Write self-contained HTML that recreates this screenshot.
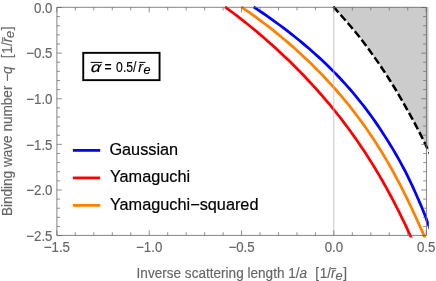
<!DOCTYPE html>
<html><head><meta charset="utf-8"><title>plot</title>
<style>
html,body{margin:0;padding:0;background:#fff;}
body{width:436px;height:281px;overflow:hidden;}
svg{display:block;font-family:"Liberation Sans",sans-serif;will-change:transform;}
text{white-space:pre;}
</style></head><body>
<svg width="436" height="281" viewBox="0 0 436 281">
<rect x="0" y="0" width="436" height="281" fill="#fff"/>
<defs>
<clipPath id="c"><rect x="56.9" y="7.3" width="369.30" height="228.10"/></clipPath>
<clipPath id="c3"><rect x="56.9" y="7.00" width="371.70" height="228.10"/></clipPath>
<clipPath id="c2"><rect x="54.50" y="4.30" width="374.30" height="233.30"/></clipPath>
</defs>
<g clip-path="url(#c3)">
<path d="M333.27,6.70 L334.41,7.95 L335.55,9.21 L336.69,10.46 L337.82,11.72 L338.94,12.97 L340.06,14.23 L341.18,15.48 L342.29,16.74 L343.39,17.99 L344.49,19.25 L345.58,20.50 L346.67,21.76 L347.76,23.01 L348.83,24.26 L349.91,25.52 L350.97,26.77 L352.04,28.03 L353.09,29.28 L354.15,30.54 L355.19,31.79 L356.24,33.05 L357.27,34.30 L358.28,35.56 L359.26,36.81 L360.23,38.07 L361.19,39.32 L362.15,40.57 L363.11,41.83 L364.06,43.08 L365.00,44.34 L365.94,45.59 L366.88,46.85 L367.81,48.10 L368.73,49.36 L369.65,50.61 L370.57,51.87 L371.48,53.12 L372.38,54.38 L373.29,55.63 L374.18,56.88 L375.07,58.14 L375.96,59.39 L376.84,60.65 L377.72,61.90 L378.59,63.16 L379.46,64.41 L380.32,65.67 L381.18,66.92 L382.04,68.18 L382.88,69.43 L383.72,70.69 L384.54,71.94 L385.36,73.19 L386.17,74.45 L386.98,75.70 L387.78,76.96 L388.58,78.21 L389.38,79.47 L390.17,80.72 L390.95,81.98 L391.74,83.23 L392.51,84.49 L393.29,85.74 L394.05,87.00 L394.82,88.25 L395.58,89.51 L396.33,90.76 L397.08,92.01 L397.83,93.27 L398.57,94.52 L399.31,95.78 L400.04,97.03 L400.77,98.29 L401.50,99.54 L402.22,100.80 L402.93,102.05 L403.64,103.31 L404.35,104.56 L405.06,105.82 L405.76,107.07 L406.45,108.32 L407.14,109.58 L407.85,110.83 L408.56,112.09 L409.26,113.34 L409.96,114.60 L410.66,115.85 L411.35,117.11 L412.04,118.36 L412.72,119.62 L413.40,120.87 L414.08,122.13 L414.75,123.38 L415.42,124.63 L416.08,125.89 L416.74,127.14 L417.40,128.40 L418.05,129.65 L418.70,130.91 L419.35,132.16 L419.99,133.42 L420.62,134.67 L421.26,135.93 L421.89,137.18 L422.51,138.44 L423.14,139.69 L423.76,140.94 L424.37,142.20 L424.98,143.45 L425.59,144.71 L426.19,145.96 L426.79,147.22 L427.39,148.47 L427.98,149.73 L428.57,150.98 L429.16,152.24 L429.74,153.49 L430.32,154.75 L430.89,156.00 L431.2,156.00 L431.2,2.3 L333.27,2.3 Z" fill="#cccccc" stroke="none"/>
</g>
<g fill="none" stroke-linejoin="round" clip-path="url(#c2)">
<path d="M333.27,6.70 L334.41,7.95 L335.55,9.21 L336.69,10.46 L337.82,11.72 L338.94,12.97 L340.06,14.23 L341.18,15.48 L342.29,16.74 L343.39,17.99 L344.49,19.25 L345.58,20.50 L346.67,21.76 L347.76,23.01 L348.83,24.26 L349.91,25.52 L350.97,26.77 L352.04,28.03 L353.09,29.28 L354.15,30.54 L355.19,31.79 L356.24,33.05 L357.27,34.30 L358.28,35.56 L359.26,36.81 L360.23,38.07 L361.19,39.32 L362.15,40.57 L363.11,41.83 L364.06,43.08 L365.00,44.34 L365.94,45.59 L366.88,46.85 L367.81,48.10 L368.73,49.36 L369.65,50.61 L370.57,51.87 L371.48,53.12 L372.38,54.38 L373.29,55.63 L374.18,56.88 L375.07,58.14 L375.96,59.39 L376.84,60.65 L377.72,61.90 L378.59,63.16 L379.46,64.41 L380.32,65.67 L381.18,66.92 L382.04,68.18 L382.88,69.43 L383.72,70.69 L384.54,71.94 L385.36,73.19 L386.17,74.45 L386.98,75.70 L387.78,76.96 L388.58,78.21 L389.38,79.47 L390.17,80.72 L390.95,81.98 L391.74,83.23 L392.51,84.49 L393.29,85.74 L394.05,87.00 L394.82,88.25 L395.58,89.51 L396.33,90.76 L397.08,92.01 L397.83,93.27 L398.57,94.52 L399.31,95.78 L400.04,97.03 L400.77,98.29 L401.50,99.54 L402.22,100.80 L402.93,102.05 L403.64,103.31 L404.35,104.56 L405.06,105.82 L405.76,107.07 L406.45,108.32 L407.14,109.58 L407.85,110.83 L408.56,112.09 L409.26,113.34 L409.96,114.60 L410.66,115.85 L411.35,117.11 L412.04,118.36 L412.72,119.62 L413.40,120.87 L414.08,122.13 L414.75,123.38 L415.42,124.63 L416.08,125.89 L416.74,127.14 L417.40,128.40 L418.05,129.65 L418.70,130.91 L419.35,132.16 L419.99,133.42 L420.62,134.67 L421.26,135.93 L421.89,137.18 L422.51,138.44 L423.14,139.69 L423.76,140.94 L424.37,142.20 L424.98,143.45 L425.59,144.71 L426.19,145.96 L426.79,147.22 L427.39,148.47 L427.98,149.73 L428.57,150.98 L429.16,152.24 L429.74,153.49 L430.32,154.75 L430.89,156.00" stroke="#000" stroke-width="2.5" stroke-dasharray="7.65,3.25"/>
<path d="M253.57,6.85 L257.97,9.79 L262.30,12.74 L266.55,15.68 L270.72,18.62 L274.83,21.57 L278.86,24.51 L282.82,27.46 L286.71,30.40 L290.49,33.34 L294.21,36.29 L297.86,39.23 L301.44,42.17 L304.95,45.12 L308.40,48.06 L311.79,51.01 L315.11,53.95 L318.37,56.89 L321.57,59.84 L324.70,62.78 L327.77,65.72 L330.74,68.67 L333.65,71.61 L336.51,74.55 L339.31,77.50 L342.05,80.44 L344.74,83.39 L347.38,86.33 L349.96,89.27 L352.49,92.22 L354.97,95.16 L357.39,98.10 L359.78,101.05 L362.12,103.99 L364.42,106.93 L366.67,109.88 L368.87,112.82 L371.03,115.77 L373.14,118.71 L375.21,121.65 L377.24,124.60 L379.22,127.54 L381.17,130.48 L383.07,133.43 L384.93,136.37 L386.82,139.32 L388.68,142.26 L390.51,145.20 L392.30,148.15 L394.05,151.09 L395.77,154.03 L397.46,156.98 L399.11,159.92 L400.73,162.86 L402.32,165.81 L403.88,168.75 L405.41,171.70 L406.91,174.64 L408.36,177.58 L409.78,180.53 L411.17,183.47 L412.54,186.41 L413.88,189.36 L415.20,192.30 L416.49,195.24 L417.81,198.19 L419.11,201.13 L420.39,204.08 L421.64,207.02 L422.88,209.96 L424.02,212.91 L425.15,215.85 L426.26,218.79 L427.35,221.74 L428.43,224.68 L429.50,227.63 L430.56,230.57 L431.60,233.51 L432.63,236.46 L433.65,239.40" stroke="#0000ff" stroke-width="2.75"/>
<path d="M225.02,6.85 L228.98,9.79 L232.88,12.74 L236.74,15.68 L240.54,18.62 L244.30,21.57 L248.00,24.51 L251.65,27.46 L255.25,30.40 L258.74,33.34 L262.18,36.29 L265.57,39.23 L268.92,42.17 L272.22,45.12 L275.47,48.06 L278.68,51.01 L281.84,53.95 L284.96,56.89 L288.04,59.84 L291.07,62.78 L294.05,65.72 L297.00,68.67 L299.90,71.61 L302.76,74.55 L305.58,77.50 L308.36,80.44 L311.10,83.39 L313.79,86.33 L316.45,89.27 L319.07,92.22 L321.66,95.16 L324.20,98.10 L326.71,101.05 L329.18,103.99 L331.61,106.93 L334.01,109.88 L336.38,112.82 L338.71,115.77 L341.00,118.71 L343.27,121.65 L345.49,124.60 L347.69,127.54 L349.86,130.48 L351.99,133.43 L354.09,136.37 L356.16,139.32 L358.20,142.26 L360.21,145.20 L362.20,148.15 L364.15,151.09 L366.08,154.03 L367.98,156.98 L369.85,159.92 L371.69,162.86 L373.51,165.81 L375.31,168.75 L377.08,171.70 L378.82,174.64 L380.54,177.58 L382.24,180.53 L383.91,183.47 L385.57,186.41 L387.20,189.36 L388.81,192.30 L390.39,195.24 L391.96,198.19 L393.51,201.13 L395.04,204.08 L396.55,207.02 L398.04,209.96 L399.51,212.91 L400.97,215.85 L402.41,218.79 L403.83,221.74 L405.24,224.68 L406.63,227.63 L408.01,230.57 L409.37,233.51 L410.72,236.46 L412.06,239.40" stroke="#ff0000" stroke-width="2.75"/>
<path d="M241.28,6.85 L245.51,9.79 L249.68,12.74 L253.78,15.68 L257.81,18.62 L261.79,21.57 L265.69,24.51 L269.54,27.46 L273.31,30.40 L276.95,33.34 L280.52,36.29 L284.03,39.23 L287.49,42.17 L290.89,45.12 L294.23,48.06 L297.51,51.01 L300.74,53.95 L303.91,56.89 L307.03,59.84 L310.09,62.78 L313.11,65.72 L316.07,68.67 L318.98,71.61 L321.84,74.55 L324.65,77.50 L327.41,80.44 L330.13,83.39 L332.79,86.33 L335.41,89.27 L337.99,92.22 L340.52,95.16 L343.00,98.10 L345.45,101.05 L347.85,103.99 L350.21,106.93 L352.52,109.88 L354.80,112.82 L357.04,115.77 L359.24,118.71 L361.40,121.65 L363.52,124.60 L365.61,127.54 L367.66,130.48 L369.68,133.43 L371.67,136.37 L373.62,139.32 L375.54,142.26 L377.42,145.20 L379.28,148.15 L381.10,151.09 L382.90,154.03 L384.67,156.98 L386.41,159.92 L388.12,162.86 L389.81,165.81 L391.47,168.75 L393.10,171.70 L394.72,174.64 L396.31,177.58 L397.87,180.53 L399.42,183.47 L400.94,186.41 L402.45,189.36 L403.93,192.30 L405.40,195.24 L406.85,198.19 L408.28,201.13 L409.70,204.08 L411.10,207.02 L412.48,209.96 L413.86,212.91 L415.21,215.85 L416.56,218.79 L417.90,221.74 L419.22,224.68 L420.54,227.63 L421.84,230.57 L423.14,233.51 L424.43,236.46 L425.71,239.40" stroke="#ff8000" stroke-width="2.75"/>
</g>
<line x1="333.77" y1="7.3" x2="333.77" y2="235.4" stroke="#b8b8b8" stroke-width="0.9" opacity="0.85"/>
<g stroke="#666666" stroke-width="0.8" fill="none">
<path d="M56.9,235.4 L56.9,7.3 L426.45,7.3 L426.45,235.4 Z"/>
</g>
<g stroke="#666666" stroke-width="0.72" fill="none">
<line x1="56.90" y1="235.4" x2="56.90" y2="230.40"/>
<line x1="56.90" y1="7.3" x2="56.90" y2="12.30"/>
<line x1="75.37" y1="235.4" x2="75.37" y2="232.30"/>
<line x1="75.37" y1="7.3" x2="75.37" y2="10.40"/>
<line x1="93.83" y1="235.4" x2="93.83" y2="232.30"/>
<line x1="93.83" y1="7.3" x2="93.83" y2="10.40"/>
<line x1="112.30" y1="235.4" x2="112.30" y2="232.30"/>
<line x1="112.30" y1="7.3" x2="112.30" y2="10.40"/>
<line x1="130.76" y1="235.4" x2="130.76" y2="232.30"/>
<line x1="130.76" y1="7.3" x2="130.76" y2="10.40"/>
<line x1="149.22" y1="235.4" x2="149.22" y2="230.40"/>
<line x1="149.22" y1="7.3" x2="149.22" y2="12.30"/>
<line x1="167.69" y1="235.4" x2="167.69" y2="232.30"/>
<line x1="167.69" y1="7.3" x2="167.69" y2="10.40"/>
<line x1="186.16" y1="235.4" x2="186.16" y2="232.30"/>
<line x1="186.16" y1="7.3" x2="186.16" y2="10.40"/>
<line x1="204.62" y1="235.4" x2="204.62" y2="232.30"/>
<line x1="204.62" y1="7.3" x2="204.62" y2="10.40"/>
<line x1="223.09" y1="235.4" x2="223.09" y2="232.30"/>
<line x1="223.09" y1="7.3" x2="223.09" y2="10.40"/>
<line x1="241.55" y1="235.4" x2="241.55" y2="230.40"/>
<line x1="241.55" y1="7.3" x2="241.55" y2="12.30"/>
<line x1="260.01" y1="235.4" x2="260.01" y2="232.30"/>
<line x1="260.01" y1="7.3" x2="260.01" y2="10.40"/>
<line x1="278.48" y1="235.4" x2="278.48" y2="232.30"/>
<line x1="278.48" y1="7.3" x2="278.48" y2="10.40"/>
<line x1="296.94" y1="235.4" x2="296.94" y2="232.30"/>
<line x1="296.94" y1="7.3" x2="296.94" y2="10.40"/>
<line x1="315.41" y1="235.4" x2="315.41" y2="232.30"/>
<line x1="315.41" y1="7.3" x2="315.41" y2="10.40"/>
<line x1="333.88" y1="235.4" x2="333.88" y2="230.40"/>
<line x1="333.88" y1="7.3" x2="333.88" y2="12.30"/>
<line x1="352.34" y1="235.4" x2="352.34" y2="232.30"/>
<line x1="352.34" y1="7.3" x2="352.34" y2="10.40"/>
<line x1="370.81" y1="235.4" x2="370.81" y2="232.30"/>
<line x1="370.81" y1="7.3" x2="370.81" y2="10.40"/>
<line x1="389.27" y1="235.4" x2="389.27" y2="232.30"/>
<line x1="389.27" y1="7.3" x2="389.27" y2="10.40"/>
<line x1="407.74" y1="235.4" x2="407.74" y2="232.30"/>
<line x1="407.74" y1="7.3" x2="407.74" y2="10.40"/>
<line x1="426.20" y1="235.4" x2="426.20" y2="230.40"/>
<line x1="426.20" y1="7.3" x2="426.20" y2="12.30"/>
<line x1="56.9" y1="7.50" x2="61.90" y2="7.50"/>
<line x1="426.2" y1="7.50" x2="421.20" y2="7.50"/>
<line x1="56.9" y1="16.62" x2="60.00" y2="16.62"/>
<line x1="426.2" y1="16.62" x2="423.10" y2="16.62"/>
<line x1="56.9" y1="25.75" x2="60.00" y2="25.75"/>
<line x1="426.2" y1="25.75" x2="423.10" y2="25.75"/>
<line x1="56.9" y1="34.87" x2="60.00" y2="34.87"/>
<line x1="426.2" y1="34.87" x2="423.10" y2="34.87"/>
<line x1="56.9" y1="44.00" x2="60.00" y2="44.00"/>
<line x1="426.2" y1="44.00" x2="423.10" y2="44.00"/>
<line x1="56.9" y1="53.12" x2="61.90" y2="53.12"/>
<line x1="426.2" y1="53.12" x2="421.20" y2="53.12"/>
<line x1="56.9" y1="62.24" x2="60.00" y2="62.24"/>
<line x1="426.2" y1="62.24" x2="423.10" y2="62.24"/>
<line x1="56.9" y1="71.37" x2="60.00" y2="71.37"/>
<line x1="426.2" y1="71.37" x2="423.10" y2="71.37"/>
<line x1="56.9" y1="80.49" x2="60.00" y2="80.49"/>
<line x1="426.2" y1="80.49" x2="423.10" y2="80.49"/>
<line x1="56.9" y1="89.62" x2="60.00" y2="89.62"/>
<line x1="426.2" y1="89.62" x2="423.10" y2="89.62"/>
<line x1="56.9" y1="98.74" x2="61.90" y2="98.74"/>
<line x1="426.2" y1="98.74" x2="421.20" y2="98.74"/>
<line x1="56.9" y1="107.86" x2="60.00" y2="107.86"/>
<line x1="426.2" y1="107.86" x2="423.10" y2="107.86"/>
<line x1="56.9" y1="116.99" x2="60.00" y2="116.99"/>
<line x1="426.2" y1="116.99" x2="423.10" y2="116.99"/>
<line x1="56.9" y1="126.11" x2="60.00" y2="126.11"/>
<line x1="426.2" y1="126.11" x2="423.10" y2="126.11"/>
<line x1="56.9" y1="135.24" x2="60.00" y2="135.24"/>
<line x1="426.2" y1="135.24" x2="423.10" y2="135.24"/>
<line x1="56.9" y1="144.36" x2="61.90" y2="144.36"/>
<line x1="426.2" y1="144.36" x2="421.20" y2="144.36"/>
<line x1="56.9" y1="153.48" x2="60.00" y2="153.48"/>
<line x1="426.2" y1="153.48" x2="423.10" y2="153.48"/>
<line x1="56.9" y1="162.61" x2="60.00" y2="162.61"/>
<line x1="426.2" y1="162.61" x2="423.10" y2="162.61"/>
<line x1="56.9" y1="171.73" x2="60.00" y2="171.73"/>
<line x1="426.2" y1="171.73" x2="423.10" y2="171.73"/>
<line x1="56.9" y1="180.86" x2="60.00" y2="180.86"/>
<line x1="426.2" y1="180.86" x2="423.10" y2="180.86"/>
<line x1="56.9" y1="189.98" x2="61.90" y2="189.98"/>
<line x1="426.2" y1="189.98" x2="421.20" y2="189.98"/>
<line x1="56.9" y1="199.10" x2="60.00" y2="199.10"/>
<line x1="426.2" y1="199.10" x2="423.10" y2="199.10"/>
<line x1="56.9" y1="208.23" x2="60.00" y2="208.23"/>
<line x1="426.2" y1="208.23" x2="423.10" y2="208.23"/>
<line x1="56.9" y1="217.35" x2="60.00" y2="217.35"/>
<line x1="426.2" y1="217.35" x2="423.10" y2="217.35"/>
<line x1="56.9" y1="226.48" x2="60.00" y2="226.48"/>
<line x1="426.2" y1="226.48" x2="423.10" y2="226.48"/>
<line x1="56.9" y1="235.60" x2="61.90" y2="235.60"/>
<line x1="426.2" y1="235.60" x2="421.20" y2="235.60"/>
</g>
<g font-size="13.3px" fill="#666" stroke="#666" stroke-width="0.15" transform="scale(1,1.05)">
<text x="56.90" y="239.71" text-anchor="middle">−1.5</text>
<text x="149.22" y="239.71" text-anchor="middle">−1.0</text>
<text x="241.55" y="239.71" text-anchor="middle">−0.5</text>
<text x="333.88" y="239.71" text-anchor="middle">0.0</text>
<text x="426.20" y="239.71" text-anchor="middle">0.5</text>
<text x="52.5" y="12.05" text-anchor="end">0.0</text>
<text x="52.5" y="55.50" text-anchor="end">−0.5</text>
<text x="52.5" y="98.94" text-anchor="end">−1.0</text>
<text x="52.5" y="142.39" text-anchor="end">−1.5</text>
<text x="52.5" y="185.84" text-anchor="end">−2.0</text>
<text x="52.5" y="229.29" text-anchor="end">−2.5</text>
</g>
<g font-size="13.58px" fill="#666" stroke="#666" stroke-width="0.15">
<g transform="translate(136.6,278.2) scale(1,1.04)">
<text id="xlab" x="0" y="0">Inverse scattering length 1/<tspan font-style="italic">a</tspan><tspan dx="0.6">  [</tspan><tspan dx="0.8">1/</tspan><tspan id="xr" font-style="italic">r</tspan><tspan font-style="italic" dy="2.2" dx="-0.2" font-size="12.8px">e</tspan><tspan dy="-2.2" dx="0.7">]</tspan></text>
<line id="xbar" x1="194.5" y1="-9.2" x2="199.6" y2="-9.2" stroke="#555" stroke-width="0.95"/>
</g>
<g transform="translate(11.7,216.1) rotate(-90) scale(1,1.04)">
<text id="ylab" x="0" y="0">Binding wave number −<tspan font-style="italic">q</tspan><tspan dx="0.6">  [</tspan><tspan dx="0.8">1/</tspan><tspan id="yr" font-style="italic">r</tspan><tspan font-style="italic" dy="2.2" dx="-0.2" font-size="12.8px">e</tspan><tspan dy="-2.2" dx="0.7">]</tspan></text>
<line id="ybar" x1="173.8" y1="-8.6" x2="178.9" y2="-8.6" stroke="#555" stroke-width="0.95"/>
</g>
</g>
<!-- legend -->
<g stroke-width="2.75" fill="none">
<line x1="72.9" y1="150.4" x2="100.2" y2="150.4" stroke="#0000ff"/>
<line x1="72.9" y1="177.9" x2="100.2" y2="177.9" stroke="#ff0000"/>
<line x1="72.9" y1="205.4" x2="100.2" y2="205.4" stroke="#ff8000"/>
</g>
<g font-size="16.3px" fill="#000" stroke="#000" stroke-width="0.2">
<text x="109.4" y="155.4">Gaussian</text>
<text x="109.9" y="182.4">Yamaguchi</text>
<text x="109.9" y="210.0">Yamaguchi−squared</text>
</g>
<!-- box -->
<rect x="83.25" y="52.85" width="76.3" height="27.3" fill="#fff" stroke="#000" stroke-width="1.9"/>
<g font-size="12.2px" fill="#000" stroke="#000" stroke-width="0.15">
<text id="ba" transform="translate(90.4,72.0) scale(1.2,1) skewX(-6)" x="0" y="0" font-style="italic" font-size="14.6px">α</text>
<text id="beq" transform="translate(104.4,71.9) scale(1,1.16)" x="0" y="0">=</text>
<text id="btxt" transform="translate(116.1,71.9) scale(1,1.16)" x="0" y="0">0.5/</text>
<text id="br" x="138.2" y="72.0" font-style="italic" font-size="14.4px">r</text>
<text id="be" x="143.5" y="73.7" font-style="italic" font-size="12.6px">e</text>
<line x1="90.6" y1="62.4" x2="102.2" y2="62.4" stroke="#000" stroke-width="1"/>
<line x1="139.2" y1="62.4" x2="145.4" y2="62.4" stroke="#000" stroke-width="1"/>
</g>
</svg>
</body></html>
